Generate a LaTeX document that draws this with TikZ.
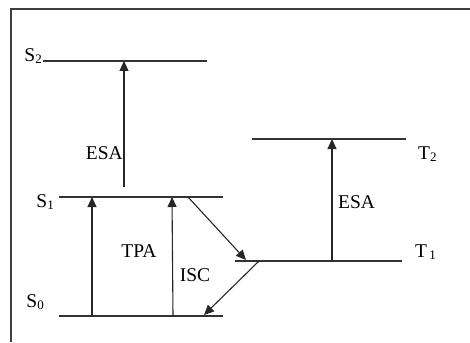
\documentclass[tikz,border=0pt]{standalone}
\usepackage{fontspec}
\setmainfont{Liberation Serif}
\usetikzlibrary{arrows.meta, positioning, calc}

\newcommand{\lvlname}[2]{#1\raisebox{-0.3ex}{\fontsize{13}{13}\selectfont #2}}

\begin{document}
\begin{tikzpicture}[
    x=1pt, y=-1pt,
    level/.style={
        draw=black!80,
        line width=1.2pt
    },
    arrow/.style={
        -{Triangle[length=10pt, width=9pt]},
        draw=black!85,
        line width=1.1pt
    },
    label/.style={
        inner sep=0pt,
        font=\fontsize{19.5}{22}\selectfont
    }
]
\useasboundingbox (0,0) rectangle (470,342);

% === Frame ===
\draw[black!75, line width=1.2pt] (11,342) -- (11,9) -- (470,9);

% === Singlet levels ===
\coordinate (s2l) at (43,61);  \coordinate (s2r) at (207,61);
\coordinate (s1l) at (59,197); \coordinate (s1r) at (223,197);
\coordinate (s0l) at (59,316); \coordinate (s0r) at (223,316);
\draw[level] (s2l) -- (s2r);
\draw[level] (s1l) -- (s1r);
\draw[level] (s0l) -- (s0r);
\node[label, anchor=east] (s2lab) at (42,56) {\lvlname{S}{2}};
\node[label, anchor=east] (s1lab) at (54,202) {\lvlname{S}{1}};
\node[label, anchor=east] (s0lab) at (44,302) {\lvlname{S}{0}};

% === Triplet levels ===
\coordinate (t2l) at (252,139); \coordinate (t2r) at (406,139);
\coordinate (t1l) at (235,261); \coordinate (t1r) at (402,261);
\draw[level] (t2l) -- (t2r);
\draw[level] (t1l) -- (t1r);
\node[label, anchor=west] (t2lab) at (418,154) {\lvlname{T}{2}};
\node[label, anchor=west] (t1lab) at (415,252) {\lvlname{T}{\,1}};

% === Transitions ===
\coordinate (esa1a) at (124,187); \coordinate (esa1b) at (124,61);
\coordinate (tpa1a) at (92,316);  \coordinate (tpa1b) at (92,197);
\coordinate (tpa2a) at (173,316); \coordinate (tpa2b) at (172,197);
\coordinate (isca) at (188,197);  \coordinate (iscb) at (246,260);
\coordinate (deca) at (259,261);  \coordinate (decb) at (204,315);
\coordinate (esa2a) at (332,261); \coordinate (esa2b) at (332,139);
\draw[arrow] (esa1a) -- (esa1b);
\draw[arrow] (tpa1a) -- (tpa1b);
\draw[arrow] (tpa2a) -- (tpa2b);
\draw[arrow] (isca) -- (iscb);
\draw[arrow] (deca) -- (decb);
\draw[arrow] (esa2a) -- (esa2b);

% === Labels ===
\node[label, anchor=east] (esa1) at (123,153) {ESA};
\node[label, anchor=west] (esa2) at (338,202) {ESA};
\node[label] (tpa) at (139,251) {TPA};
\node[label] (isc) at (195,275) {ISC};
\end{tikzpicture}
\end{document}
